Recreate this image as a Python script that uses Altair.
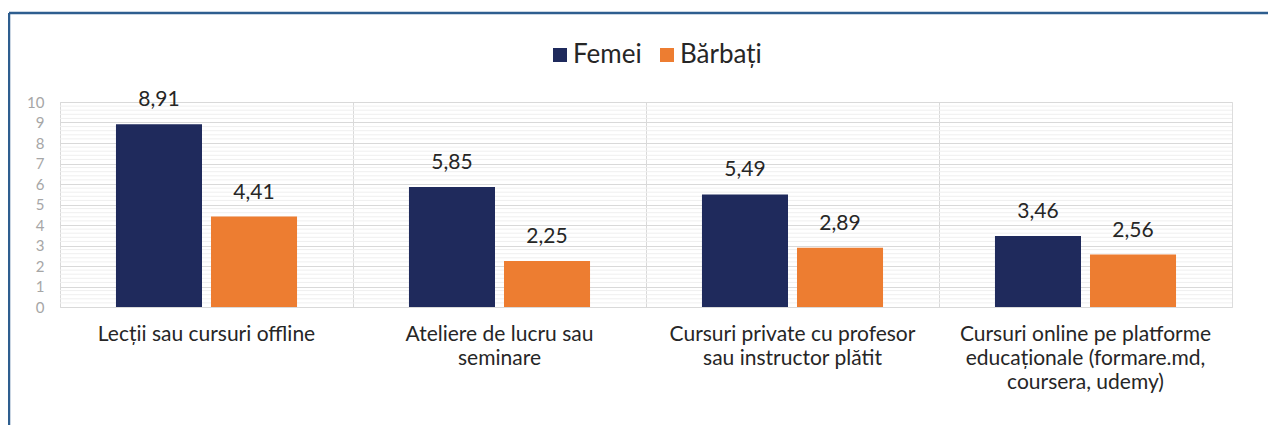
import altair as alt
import pandas as pd

categories = [
    ["Lecții sau cursuri offline"],
    ["Ateliere de lucru sau", "seminare"],
    ["Cursuri private cu profesor", "sau instructor plătit"],
    ["Cursuri online pe platforme", "educaționale (formare.md,", "coursera, udemy)"],
]
series = ["Femei", "Bărbați"]
femei = [8.91, 5.85, 5.49, 3.46]
barbati = [4.41, 2.25, 2.89, 2.56]
colors = ["#1F2A5C", "#ED7D31"]
y_ticks = list(range(0, 11))
minor_ticks = [round(i * 0.2, 1) for i in range(1, 50) if i % 5 != 0]

cat_labels = ["\n".join(c) for c in categories]
rows = []
for i, c in enumerate(cat_labels):
    rows.append({"cat": c, "series": series[0], "value": femei[i]})
    rows.append({"cat": c, "series": series[1], "value": barbati[i]})
df = pd.DataFrame(rows)

FONT = "Lato"
W, H = 1172, 205

x_axis = alt.Axis(title=None, labelAngle=0, domain=False, ticks=False,
                  grid=True, gridColor="#D9D9D9", bandPosition=0,
                  labelExpr="split(datum.label, '\\n')",
                  labelFontSize=21, labelFont=FONT, labelColor="#262626",
                  labelLineHeight=24, labelPadding=16, labelLimit=400)
x_scale = alt.Scale(paddingInner=0, paddingOuter=0)
y_axis = alt.Axis(title=None, values=y_ticks, labelOverlap=False,
                  domain=False, ticks=False,
                  grid=True, gridColor="#D9D9D9", labelColor="#A6A6A6",
                  labelFontSize=15, labelFont=FONT, labelPadding=16)
y_scale = alt.Scale(domain=[0, 10], nice=False)

minor = alt.Chart(pd.DataFrame({"v": minor_ticks})).mark_rule(
    color="#EFEFEF", strokeWidth=1
).encode(y=alt.Y("v:Q", scale=y_scale, axis=y_axis))

bars = alt.Chart(df).mark_bar().encode(
    x=alt.X("cat:N", sort=cat_labels, scale=x_scale, axis=x_axis),
    xOffset=alt.XOffset("series:N", sort=series,
                        scale=alt.Scale(paddingInner=0.0947, paddingOuter=0.589)),
    y=alt.Y("value:Q", scale=y_scale, axis=y_axis),
    color=alt.Color("series:N", sort=series,
                    scale=alt.Scale(domain=series, range=colors),
                    legend=alt.Legend(title=None, orient="none", legendX=487, legendY=-60,
                                      direction="horizontal", symbolType="square",
                                      symbolSize=196, symbolStrokeWidth=0,
                                      labelFontSize=26, labelFont=FONT,
                                      labelColor="#262626", labelOffset=0,
                                      columnPadding=12)),
)

labels = alt.Chart(df).transform_calculate(
    txt="replace(format(datum.value, '.2f'), '.', ',')"
).mark_text(baseline="alphabetic", dy=-18, fontSize=21, font=FONT, color="#262626").encode(
    x=alt.X("cat:N", sort=cat_labels, scale=x_scale, axis=x_axis),
    xOffset=alt.XOffset("series:N", sort=series),
    y=alt.Y("value:Q", scale=y_scale, axis=y_axis),
    text="txt:N",
)

one = pd.DataFrame({"k": [0]})
frame_left = alt.Chart(one).mark_rule(color="#2E5E8F", strokeWidth=2.5).encode(
    x=alt.value(-51), y=alt.value(-89), y2=alt.value(330))
frame_top = alt.Chart(one).mark_rule(color="#2E5E8F", strokeWidth=2.5).encode(
    x=alt.value(-51), x2=alt.value(1210), y=alt.value(-89))

chart = alt.layer(minor, bars, labels, frame_left, frame_top).properties(
    width=W, height=H,
    padding={"left": 52, "top": 94, "right": 36, "bottom": 118},
    autosize=alt.AutoSizeParams(type="none"),
).configure_view(stroke="#D9D9D9").configure(background="white")

chart.save("out.html", embed_options={"renderer": "svg", "actions": False})
